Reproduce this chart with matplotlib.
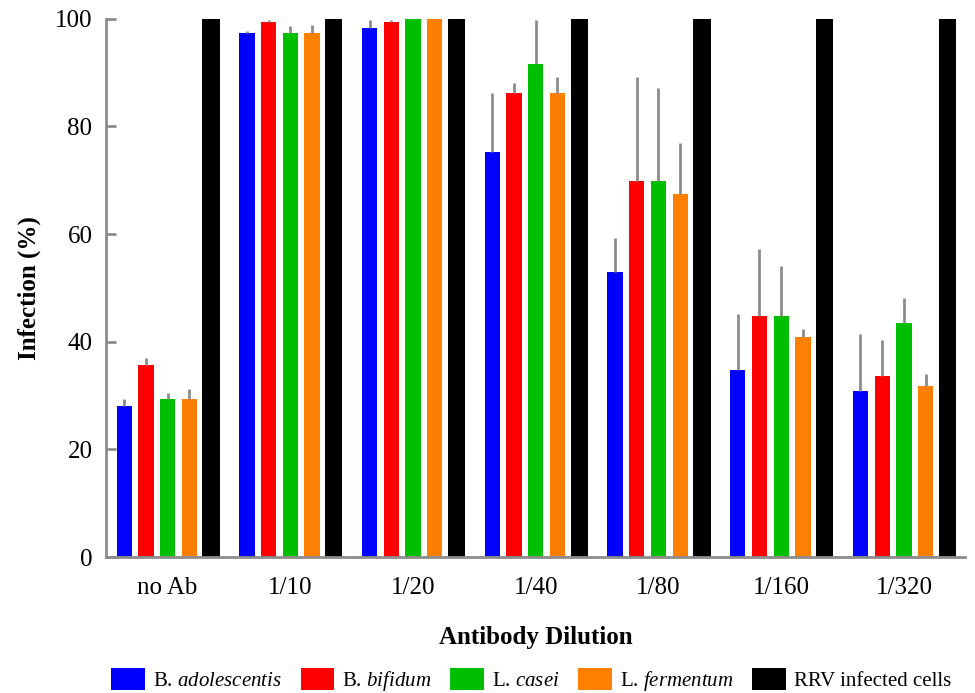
import numpy as np
import matplotlib.pyplot as plt
from matplotlib.patches import Patch

plt.rcParams['font.family'] = ['Liberation Serif', 'DejaVu Serif']
plt.rcParams['mathtext.fontset'] = 'custom'
plt.rcParams['mathtext.it'] = 'Liberation Serif:italic'
plt.rcParams['mathtext.rm'] = 'Liberation Serif'

# dilutions on the x axis
dilutions = ['no Ab', '1/10', '1/20', '1/40', '1/80', '1/160', '1/320']

# mean infection (%) per strain
adolescentis = [28.0, 97.4, 98.3, 75.3, 53.0, 34.8, 30.9]
bifidum = [35.6, 99.3, 99.4, 86.2, 69.9, 44.8, 33.6]
casei = [29.4, 97.4, 100.0, 91.6, 69.9, 44.8, 43.4]
fermentum = [29.4, 97.4, 100.0, 86.2, 67.5, 40.9, 31.8]
rrv = [100, 100, 100, 100, 100, 100, 100]

# upper error (sd) per strain
adolescentis_err = [1.4, 0.4, 1.4, 10.9, 6.3, 10.4, 10.5]
bifidum_err = [1.4, 0.4, 0.3, 1.9, 19.2, 12.4, 6.7]
casei_err = [1.1, 1.3, 0.0, 8.2, 17.3, 9.3, 4.7]
fermentum_err = [1.8, 1.4, 0.0, 2.9, 9.5, 1.5, 2.3]
rrv_err = [0, 0, 0, 0, 0, 0, 0]

labels = [r'B. $\it{adolescentis}$', r'B. $\it{bifidum}$', r'L. $\it{casei}$',
          r'L. $\it{fermentum}$', 'RRV infected cells']
colors = ['#0000ff', '#ff0000', '#00bf00', '#ff8000', '#000000']
series = [adolescentis, bifidum, casei, fermentum, rrv]
errs = [adolescentis_err, bifidum_err, casei_err, fermentum_err, rrv_err]

fig = plt.figure(figsize=(9.75, 6.93), dpi=100)
ax = fig.add_axes([0.109, 0.196, 0.881, 0.777])

x = np.arange(len(dilutions))
step = 0.177
width = 0.125
for i, (vals, err, c) in enumerate(zip(series, errs, colors)):
    pos = x + (i - 2) * step
    w = width * 1.12 if i == 4 else width
    ax.bar(pos, vals, width=w, color=c, zorder=2)
    if i < 4:
        ax.vlines(pos, vals, np.array(vals) + np.array(err), color='#8c8c8c',
                  linewidth=2, zorder=3)

ax.set_xlim(-0.5, 6.5)
ax.set_ylim(0, 100)
ax.set_yticks([0, 20, 40, 60, 80, 100])
ax.set_xticks(x)
ax.set_xticklabels(dilutions)
ax.tick_params(axis='both', direction='in', length=7, width=2, color='#8c8c8c',
               labelsize=18, pad=10)
ax.tick_params(axis='x', pad=14)
for s in ['top', 'right']:
    ax.spines[s].set_visible(False)
for s in ['left', 'bottom']:
    ax.spines[s].set_color('#8c8c8c')
    ax.spines[s].set_linewidth(2)
    ax.spines[s].set_zorder(4)

ax.set_ylabel('Infection (%)', fontsize=18, fontweight='bold', labelpad=10)
ax.set_xlabel('Antibody Dilution', fontsize=18, fontweight='bold', labelpad=20)

handles = [Patch(facecolor=c) for c in colors]
fig.legend(handles, labels, loc='lower center', bbox_to_anchor=(0.545, -0.027),
           ncol=5, frameon=False, fontsize=15, handlelength=1.6, handleheight=1.3,
           handletextpad=0.4, columnspacing=0.9)

fig.savefig('out.png', dpi=100)
